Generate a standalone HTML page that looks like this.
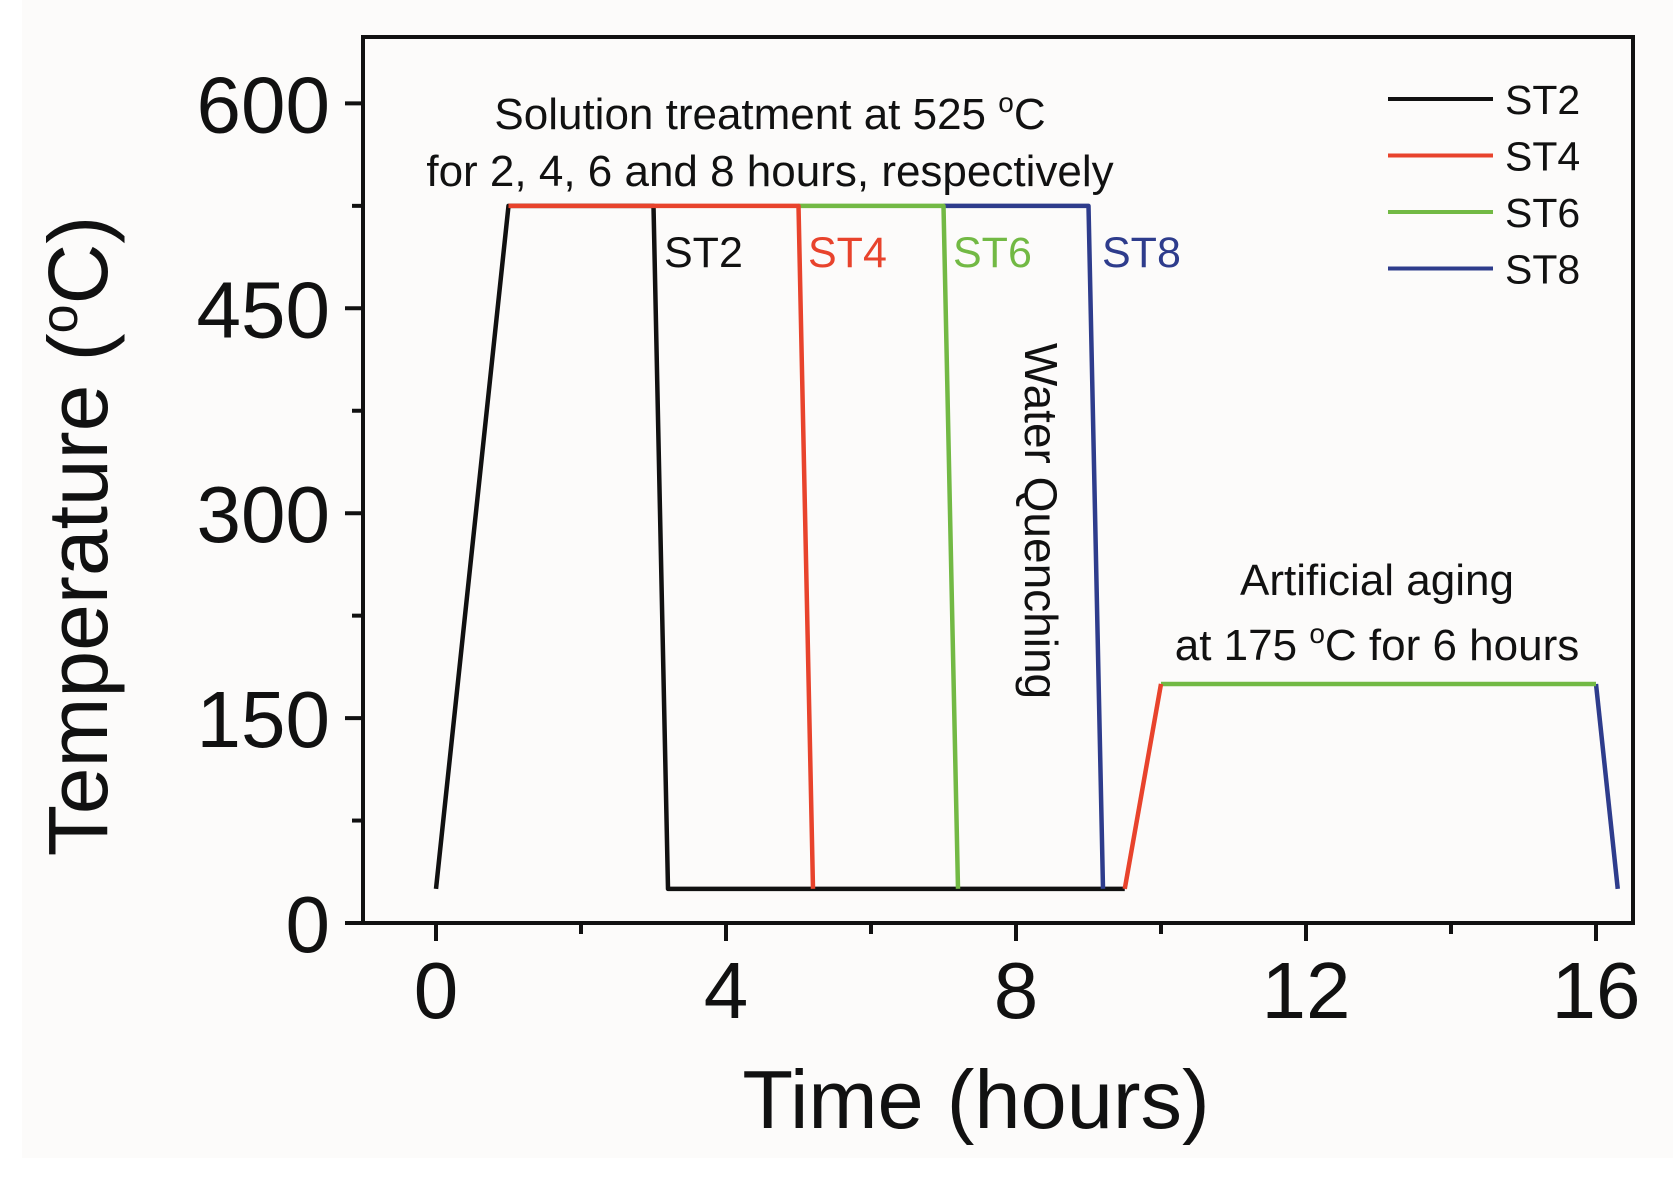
<!DOCTYPE html>
<html><head><meta charset="utf-8"><style>
html,body{margin:0;padding:0;background:#fff;}
svg{display:block;font-family:"Liberation Sans",Arial,sans-serif;}
</style></head><body>
<svg width="1673" height="1183" viewBox="0 0 1673 1183">
<rect x="22" y="0" width="1651" height="1158" fill="#fcfbfa"/>
<g id="plot"></g>
<rect x="363" y="37" width="1270" height="886" fill="none" stroke="#111" stroke-width="4"/>
<g id="axes"></g>
<text x="770" y="129" font-size="44" text-anchor="middle" fill="#111">Solution treatment at 525 <tspan font-size="28" dy="-17">o</tspan><tspan dy="17">C</tspan></text>
<text x="770" y="186" font-size="44" text-anchor="middle" fill="#111">for 2, 4, 6 and 8 hours, respectively</text>
<text x="664" y="267" font-size="43" fill="#111">ST2</text>
<text x="808" y="267" font-size="43" fill="#e8432c">ST4</text>
<text x="953" y="267" font-size="43" fill="#72b944">ST6</text>
<text x="1102" y="267" font-size="43" fill="#2e3c8c">ST8</text>
<text transform="translate(1025,521) rotate(90)" font-size="46" text-anchor="middle" fill="#111">Water Quenching</text>
<text x="1377" y="595" font-size="44" text-anchor="middle" fill="#111">Artificial aging</text>
<text x="1377" y="660" font-size="44" text-anchor="middle" fill="#111">at 175 <tspan font-size="28" dy="-17">o</tspan><tspan dy="17">C for 6 hours</tspan></text>
<g id="legend"></g>
<text transform="translate(107,536) rotate(-90)" font-size="84" text-anchor="middle" fill="#111">Temperature (<tspan font-size="52" dy="-30">o</tspan><tspan dy="30">C)</tspan></text>
<text x="976" y="1128" font-size="83" text-anchor="middle" fill="#111">Time (hours)</text>
</svg>
<script>
const xTicks = [0, 4, 8, 12, 16];
const xMinor = [2, 6, 10, 14];
const yTicks = [0, 150, 300, 450, 600];
const yMinor = [75, 225, 375, 525];
const seriesNames = ['ST2', 'ST4', 'ST6', 'ST8'];
const seriesColors = ['#111111', '#e8432c', '#72b944', '#2e3c8c'];
// visible segments per series: time (h) and temperature (°C)
const st2Time = [0, 1, 3, 3.2, 9.5];
const st2Temp = [25, 525, 525, 25, 25];
const st4Time = [1, 5, 5.2];
const st4Temp = [525, 525, 25];
const st4AgeTime = [9.5, 10];
const st4AgeTemp = [25, 175];
const st6Time = [5, 7, 7.2];
const st6Temp = [525, 525, 25];
const st6AgeTime = [10, 16];
const st6AgeTemp = [175, 175];
const st8Time = [7, 9, 9.2];
const st8Temp = [525, 525, 25];
const st8AgeTime = [16, 16.3];
const st8AgeTemp = [175, 25];

const NS = 'http://www.w3.org/2000/svg';
function xs(t){ return 436 + t * 72.5; }
function ys(v){ return 923 - v * (204.9 / 150); }

const plot = document.getElementById('plot');
const axes = document.getElementById('axes');
const legend = document.getElementById('legend');

function drawLine(times, temps, color, name){
  const p = document.createElementNS(NS, 'polyline');
  p.setAttribute('points', times.map((t,i)=>xs(t)+','+ys(temps[i])).join(' '));
  p.setAttribute('fill', 'none');
  p.setAttribute('stroke', color);
  p.setAttribute('stroke-width', '4.5');
  p.setAttribute('stroke-linejoin', 'round');
  
  
  plot.appendChild(p);
}
drawLine(st2Time, st2Temp, seriesColors[0], 'st2-line');
drawLine(st8Time, st8Temp, seriesColors[3], 'st8-line');
drawLine(st8AgeTime, st8AgeTemp, seriesColors[3], 'st8-aging-line');
drawLine(st6Time, st6Temp, seriesColors[2], 'st6-line');
drawLine(st6AgeTime, st6AgeTemp, seriesColors[2], 'st6-aging-line');
drawLine(st4Time, st4Temp, seriesColors[1], 'st4-line');
drawLine(st4AgeTime, st4AgeTemp, seriesColors[1], 'st4-aging-line');

function tick(x1,y1,x2,y2,name){
  const l = document.createElementNS(NS, 'line');
  l.setAttribute('x1', x1); l.setAttribute('y1', y1);
  l.setAttribute('x2', x2); l.setAttribute('y2', y2);
  l.setAttribute('stroke', '#111'); l.setAttribute('stroke-width', '4');
  
  
  axes.appendChild(l);
}
function label(x,y,txt,anchor,name){
  const t = document.createElementNS(NS, 'text');
  t.setAttribute('x', x); t.setAttribute('y', y);
  t.setAttribute('font-size', '80');
  t.setAttribute('text-anchor', anchor);
  t.setAttribute('fill', '#111');
  t.textContent = txt;
  
  
  axes.appendChild(t);
}
xTicks.forEach(v=>{
  tick(xs(v), 923, xs(v), 941, 'x-tick');
  label(xs(v), 1018, String(v), 'middle', 'x-tick-label');
});
xMinor.forEach(v=>{ tick(xs(v), 923, xs(v), 934, 'x-minor-tick'); });
yTicks.forEach(v=>{
  tick(345, ys(v), 363, ys(v), 'y-tick');
  label(330, ys(v)+29, String(v), 'end', 'y-tick-label');
});
yMinor.forEach(v=>{ tick(352, ys(v), 363, ys(v), 'y-minor-tick'); });

seriesNames.forEach((n,i)=>{
  const y = 99 + i * 56.5;
  const l = document.createElementNS(NS, 'line');
  l.setAttribute('x1', 1388); l.setAttribute('x2', 1493);
  l.setAttribute('y1', y); l.setAttribute('y2', y);
  l.setAttribute('stroke', seriesColors[i]); l.setAttribute('stroke-width', '4');
  
  
  legend.appendChild(l);
  const t = document.createElementNS(NS, 'text');
  t.setAttribute('x', 1505); t.setAttribute('y', y + 15);
  t.setAttribute('font-size', '41'); t.setAttribute('fill', '#111');
  t.textContent = n;
  
  
  legend.appendChild(t);
});
</script>
</body></html>
